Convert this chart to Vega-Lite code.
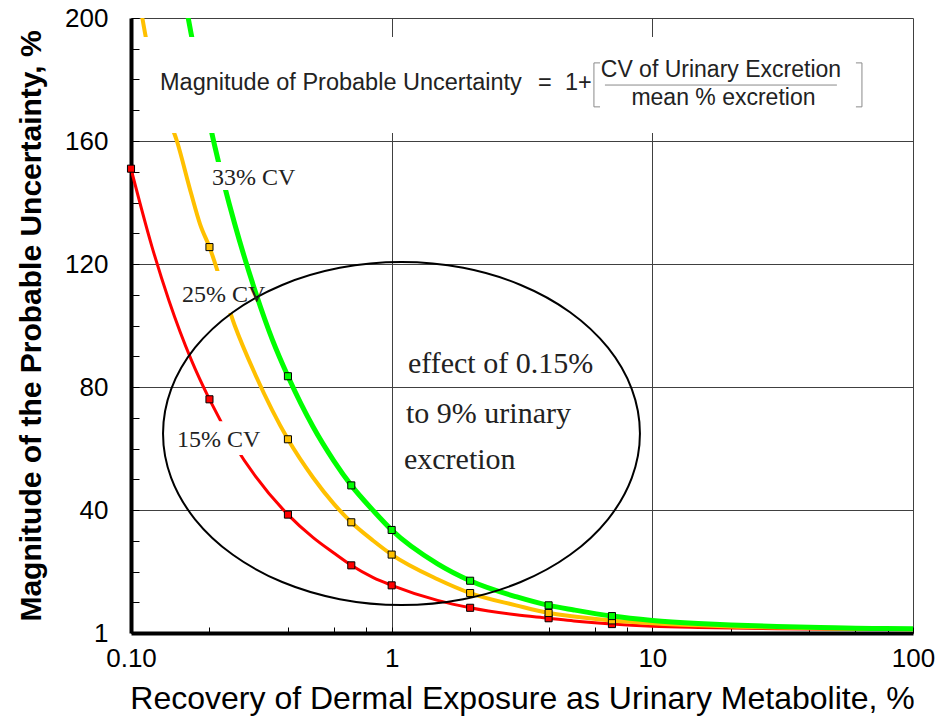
{
  "$schema": "https://vega.github.io/schema/vega-lite/v6.json",
  "width": 782,
  "height": 615,
  "autosize": {"type": "none"},
  "padding": {"left": 131, "top": 18, "right": 30, "bottom": 86},
  "background": "white",
  "config": {
    "font": "Liberation Sans",
    "view": {"stroke": null}
  },
  "datasets": {
    "curves": [
      {"cv": "15% CV", "x": 0.1, "y": 151}, {"cv": "15% CV", "x": 0.12, "y": 126}, {"cv": "15% CV", "x": 0.14, "y": 108},
      {"cv": "15% CV", "x": 0.17, "y": 89}, {"cv": "15% CV", "x": 0.2, "y": 76}, {"cv": "15% CV", "x": 0.25, "y": 61},
      {"cv": "15% CV", "x": 0.3, "y": 51}, {"cv": "15% CV", "x": 0.4, "y": 38.5}, {"cv": "15% CV", "x": 0.5, "y": 31},
      {"cv": "15% CV", "x": 0.6, "y": 26}, {"cv": "15% CV", "x": 0.7, "y": 22}, {"cv": "15% CV", "x": 0.85, "y": 18},
      {"cv": "15% CV", "x": 1, "y": 15.5}, {"cv": "15% CV", "x": 1.5, "y": 10.6}, {"cv": "15% CV", "x": 2, "y": 8.2},
      {"cv": "15% CV", "x": 3, "y": 5.9}, {"cv": "15% CV", "x": 4, "y": 4.8}, {"cv": "15% CV", "x": 5, "y": 3.9},
      {"cv": "15% CV", "x": 7, "y": 2.9}, {"cv": "15% CV", "x": 10, "y": 2.2}, {"cv": "15% CV", "x": 15, "y": 1.8},
      {"cv": "15% CV", "x": 20, "y": 1.6}, {"cv": "15% CV", "x": 30, "y": 1.4}, {"cv": "15% CV", "x": 50, "y": 1.25},
      {"cv": "15% CV", "x": 70, "y": 1.2}, {"cv": "15% CV", "x": 100, "y": 1.15},
      {"cv": "25% CV", "x": 0.108, "y": 205}, {"cv": "25% CV", "x": 0.115, "y": 192}, {"cv": "25% CV", "x": 0.13, "y": 174},
      {"cv": "25% CV", "x": 0.15, "y": 160}, {"cv": "25% CV", "x": 0.17, "y": 143}, {"cv": "25% CV", "x": 0.184, "y": 133},
      {"cv": "25% CV", "x": 0.2, "y": 125.5}, {"cv": "25% CV", "x": 0.25, "y": 100}, {"cv": "25% CV", "x": 0.3, "y": 84},
      {"cv": "25% CV", "x": 0.4, "y": 63}, {"cv": "25% CV", "x": 0.5, "y": 50.5}, {"cv": "25% CV", "x": 0.6, "y": 42},
      {"cv": "25% CV", "x": 0.7, "y": 36}, {"cv": "25% CV", "x": 0.85, "y": 30}, {"cv": "25% CV", "x": 1, "y": 25.5},
      {"cv": "25% CV", "x": 1.5, "y": 17.5}, {"cv": "25% CV", "x": 2, "y": 13}, {"cv": "25% CV", "x": 3, "y": 9},
      {"cv": "25% CV", "x": 4, "y": 6.5}, {"cv": "25% CV", "x": 5, "y": 5.4}, {"cv": "25% CV", "x": 7, "y": 4.1},
      {"cv": "25% CV", "x": 10, "y": 3.2}, {"cv": "25% CV", "x": 15, "y": 2.5}, {"cv": "25% CV", "x": 20, "y": 2.1},
      {"cv": "25% CV", "x": 30, "y": 1.8}, {"cv": "25% CV", "x": 50, "y": 1.5}, {"cv": "25% CV", "x": 70, "y": 1.35},
      {"cv": "25% CV", "x": 100, "y": 1.25},
      {"cv": "33% CV", "x": 0.16, "y": 207}, {"cv": "33% CV", "x": 0.17, "y": 195}, {"cv": "33% CV", "x": 0.19, "y": 175},
      {"cv": "33% CV", "x": 0.21, "y": 158}, {"cv": "33% CV", "x": 0.25, "y": 133}, {"cv": "33% CV", "x": 0.3, "y": 111},
      {"cv": "33% CV", "x": 0.35, "y": 95}, {"cv": "33% CV", "x": 0.4, "y": 83.5}, {"cv": "33% CV", "x": 0.5, "y": 67},
      {"cv": "33% CV", "x": 0.6, "y": 56}, {"cv": "33% CV", "x": 0.7, "y": 48}, {"cv": "33% CV", "x": 0.85, "y": 39.8},
      {"cv": "33% CV", "x": 1, "y": 33.5}, {"cv": "33% CV", "x": 1.5, "y": 22.5}, {"cv": "33% CV", "x": 2, "y": 17},
      {"cv": "33% CV", "x": 3, "y": 11.8}, {"cv": "33% CV", "x": 4, "y": 9}, {"cv": "33% CV", "x": 5, "y": 7.5},
      {"cv": "33% CV", "x": 7, "y": 5.5}, {"cv": "33% CV", "x": 10, "y": 4.1}, {"cv": "33% CV", "x": 15, "y": 3.1},
      {"cv": "33% CV", "x": 20, "y": 2.6}, {"cv": "33% CV", "x": 30, "y": 2.1}, {"cv": "33% CV", "x": 50, "y": 1.7},
      {"cv": "33% CV", "x": 70, "y": 1.5}, {"cv": "33% CV", "x": 100, "y": 1.35}
    ],
    "markers": [
      {"cv": "15% CV", "x": 0.1, "y": 151}, {"cv": "15% CV", "x": 0.2, "y": 76}, {"cv": "15% CV", "x": 0.4, "y": 38.5},
      {"cv": "15% CV", "x": 0.7, "y": 22}, {"cv": "15% CV", "x": 1, "y": 15.5}, {"cv": "15% CV", "x": 2, "y": 8.2},
      {"cv": "15% CV", "x": 4, "y": 4.8}, {"cv": "15% CV", "x": 7, "y": 2.9},
      {"cv": "25% CV", "x": 0.2, "y": 125.5}, {"cv": "25% CV", "x": 0.4, "y": 63}, {"cv": "25% CV", "x": 0.7, "y": 36},
      {"cv": "25% CV", "x": 1, "y": 25.5}, {"cv": "25% CV", "x": 2, "y": 13}, {"cv": "25% CV", "x": 4, "y": 6.5},
      {"cv": "25% CV", "x": 7, "y": 4.1},
      {"cv": "33% CV", "x": 0.4, "y": 83.5}, {"cv": "33% CV", "x": 0.7, "y": 48}, {"cv": "33% CV", "x": 1, "y": 33.5},
      {"cv": "33% CV", "x": 2, "y": 17}, {"cv": "33% CV", "x": 4, "y": 9}, {"cv": "33% CV", "x": 7, "y": 5.5}
    ],
    "masks": [
      {"x": 0.1092, "x2": 89, "y": 162.6, "y2": 193.8},
      {"x": 0.1974, "x2": 0.4447, "y": 144.1, "y2": 153.2},
      {"x": 0.205, "x2": 0.262, "y": 104.1, "y2": 117.7},
      {"x": 0.21, "x2": 0.2989, "y": 57.9, "y2": 68.9}
    ],
    "ellipse": [
      {"i": 0, "x": 8.963, "y": 64.88}, {"i": 1, "x": 8.341, "y": 79.31}, {"i": 2, "x": 6.757, "y": 92.77},
      {"i": 3, "x": 4.836, "y": 104.32}, {"i": 4, "x": 3.126, "y": 113.18}, {"i": 5, "x": 1.881, "y": 118.75},
      {"i": 6, "x": 1.09, "y": 120.65}, {"i": 7, "x": 0.6321, "y": 118.75}, {"i": 8, "x": 0.3802, "y": 113.18},
      {"i": 9, "x": 0.2459, "y": 104.32}, {"i": 10, "x": 0.176, "y": 92.77}, {"i": 11, "x": 0.1426, "y": 79.31},
      {"i": 12, "x": 0.1327, "y": 64.88}, {"i": 13, "x": 0.1426, "y": 50.45}, {"i": 14, "x": 0.176, "y": 36.99},
      {"i": 15, "x": 0.2459, "y": 25.44}, {"i": 16, "x": 0.3802, "y": 16.58}, {"i": 17, "x": 0.6321, "y": 11.01},
      {"i": 18, "x": 1.09, "y": 9.11}, {"i": 19, "x": 1.881, "y": 11.01}, {"i": 20, "x": 3.126, "y": 16.58},
      {"i": 21, "x": 4.836, "y": 25.44}, {"i": 22, "x": 6.757, "y": 36.99}, {"i": 23, "x": 8.341, "y": 50.45}
    ],
    "eqlines": [
      {"x": 6.58, "x2": 51.06, "y": 178.2, "y2": 178.2},
      {"x": 5.97, "x2": 5.97, "y": 171.1, "y2": 185.4},
      {"x": 5.97, "x2": 6.3, "y": 185.4, "y2": 185.4},
      {"x": 5.97, "x2": 6.3, "y": 171.1, "y2": 171.1},
      {"x": 63.7, "x2": 63.7, "y": 171.1, "y2": 185.4},
      {"x": 60.4, "x2": 63.7, "y": 185.4, "y2": 185.4},
      {"x": 60.4, "x2": 63.7, "y": 171.1, "y2": 171.1}
    ],
    "eqtext": [
      {"label": "Magnitude of Probable Uncertainty", "x": 0.1292, "y": 176.6},
      {"label": "=", "x": 3.64, "y": 176.6},
      {"label": "1+", "x": 4.622, "y": 176.6}
    ],
    "fractext": [
      {"label": "CV of Urinary Excretion", "x": 18.33, "y": 180.8},
      {"label": "mean % excretion", "x": 18.74, "y": 171.7}
    ],
    "cvlabels": [
      {"label": "33% CV", "x": 0.2045, "y": 145.7},
      {"label": "25% CV", "x": 0.1569, "y": 107.6},
      {"label": "15% CV", "x": 0.1501, "y": 60.5}
    ],
    "effect": [
      {"label": "effect of 0.15%", "x": 1.155, "y": 84.55},
      {"label": "to 9% urinary", "x": 1.135, "y": 68.3},
      {"label": "excretion", "x": 1.115, "y": 53.3}
    ]
  },
  "encoding": {
    "x": {
      "field": "x",
      "type": "quantitative",
      "scale": {"type": "log", "domain": [0.1, 100], "nice": false},
      "axis": {
        "values": [0.1, 0.2, 0.4, 0.6, 0.8, 1, 2, 4, 6, 8, 10, 20, 40, 60, 80, 100],
        "labelExpr": "datum.value == 0.1 ? '0.10' : datum.value == 1 ? '1' : datum.value == 10 ? '10' : datum.value == 100 ? '100' : ''",
        "grid": true,
        "gridColor": "#404040",
        "gridWidth": 1,
        "gridOpacity": {"condition": {"test": "datum.value == 1 || datum.value == 10 || datum.value == 100", "value": 1}, "value": 0},
        "ticks": true,
        "tickSize": -6,
        "tickColor": "black",
        "tickWidth": 1,
        "domainColor": "black",
        "domainWidth": 4,
        "labelFont": "Liberation Sans",
        "labelFontSize": 26,
        "labelColor": "black",
        "labelPadding": 18,
        "labelFlush": false,
        "labelOverlap": false,
        "title": "Recovery of Dermal Exposure as Urinary Metabolite, %",
        "titleFont": "Liberation Sans",
        "titleFontSize": 32,
        "titleFontWeight": "normal",
        "titleColor": "black",
        "titlePadding": 12
      }
    },
    "y": {
      "field": "y",
      "type": "quantitative",
      "scale": {"domain": [0, 200], "nice": false, "zero": true},
      "axis": {
        "values": [0, 10, 20, 30, 40, 50, 60, 70, 80, 90, 100, 110, 120, 130, 140, 150, 160, 170, 180, 190, 200],
        "labelExpr": "datum.value == 0 ? '1' : (datum.value % 40 == 0 ? datum.label : '')",
        "grid": true,
        "gridColor": "#404040",
        "gridWidth": 1,
        "gridOpacity": {"condition": {"test": "datum.value % 40 == 0 && datum.value > 0", "value": 1}, "value": 0},
        "ticks": true,
        "tickSize": -8,
        "tickColor": "black",
        "tickWidth": 1,
        "domainColor": "black",
        "domainWidth": 4,
        "labelFont": "Liberation Sans",
        "labelFontSize": 26,
        "labelColor": "black",
        "labelPadding": 31,
        "labelFlush": false,
        "labelOverlap": false,
        "title": "Magnitude of the Probable Uncertainty, %",
        "titleFont": "Liberation Sans",
        "titleFontSize": 30,
        "titleFontWeight": "bold",
        "titleColor": "black",
        "titlePadding": 18
      }
    }
  },
  "layer": [
    {
      "data": {"name": "curves"},
      "mark": {"type": "line", "clip": true, "interpolate": "monotone"},
      "encoding": {
        "color": {"field": "cv", "type": "nominal", "scale": {"domain": ["15% CV", "25% CV", "33% CV"], "range": ["#ff0000", "#ffc000", "#00ff00"]}, "legend": null},
        "strokeWidth": {"field": "cv", "type": "ordinal", "scale": {"domain": ["15% CV", "25% CV", "33% CV"], "range": [3, 5, 5]}, "legend": null}
      }
    },
    {
      "data": {"name": "markers"},
      "mark": {"type": "point", "shape": "square", "filled": true, "stroke": "black", "strokeWidth": 1, "size": 50, "opacity": 1},
      "encoding": {
        "fill": {"field": "cv", "type": "nominal", "scale": {"domain": ["15% CV", "25% CV", "33% CV"], "range": ["#ff0000", "#ffc000", "#00ff00"]}, "legend": null}
      }
    },
    {
      "data": {"name": "masks"},
      "mark": {"type": "rect", "fill": "white", "stroke": null},
      "encoding": {
        "x2": {"field": "x2"},
        "y2": {"field": "y2"}
      }
    },
    {
      "data": {"name": "ellipse"},
      "mark": {"type": "line", "interpolate": "cardinal-closed", "color": "black", "strokeWidth": 2},
      "encoding": {
        "order": {"field": "i", "type": "quantitative"}
      }
    },
    {
      "data": {"name": "eqlines"},
      "mark": {"type": "rule", "color": "#8a8a8a", "strokeWidth": 1},
      "encoding": {
        "x2": {"field": "x2"},
        "y2": {"field": "y2"}
      }
    },
    {
      "data": {"name": "eqtext"},
      "mark": {"type": "text", "align": "left", "baseline": "alphabetic", "font": "Liberation Sans", "fontSize": 23.5, "color": "#222222"},
      "encoding": {"text": {"field": "label"}}
    },
    {
      "data": {"name": "fractext"},
      "mark": {"type": "text", "align": "center", "baseline": "alphabetic", "font": "Liberation Sans", "fontSize": 23, "color": "#222222"},
      "encoding": {"text": {"field": "label"}}
    },
    {
      "data": {"name": "cvlabels"},
      "mark": {"type": "text", "align": "left", "baseline": "alphabetic", "font": "Liberation Serif", "fontSize": 24, "color": "#222222"},
      "encoding": {"text": {"field": "label"}}
    },
    {
      "data": {"name": "effect"},
      "mark": {"type": "text", "align": "left", "baseline": "alphabetic", "font": "Liberation Serif", "fontSize": 30, "color": "#222222"},
      "encoding": {"text": {"field": "label"}}
    }
  ]
}
